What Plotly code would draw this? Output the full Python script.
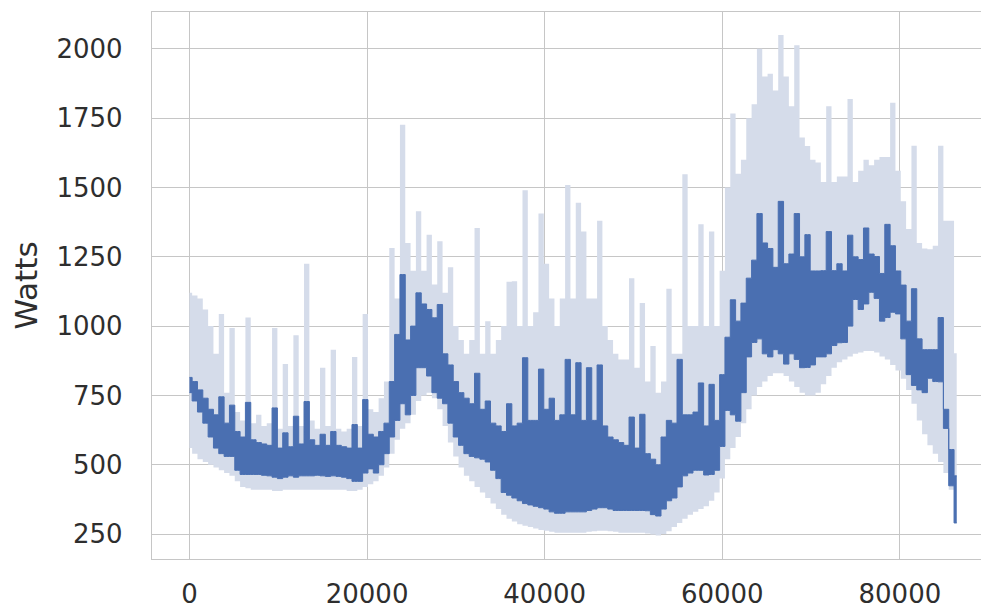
import plotly.graph_objects as go

# time of day in seconds (sample every 600 s)
seconds = list(range(0, 86401, 600))

# top edge of the dark mean line (W)
mean_high = [
    815, 800, 770, 740, 700, 680, 745, 650, 715, 620,
    600, 725, 590, 580, 575, 570, 705, 560, 615, 565,
    675, 575, 728, 590, 570, 610, 570, 620, 570, 565,
    560, 645, 560, 735, 610, 600, 620, 650, 800, 970,
    1186, 950, 1000, 1120, 1080, 1060, 1030, 1078, 900, 860,
    800, 760, 740, 720, 830, 700, 730, 650, 640, 620,
    720, 640, 650, 886, 660, 660, 845, 700, 740, 660,
    680, 880, 680, 868, 660, 850, 660, 860, 640, 600,
    590, 580, 570, 672, 560, 682, 540, 520, 500, 600,
    660, 650, 880, 680, 680, 690, 795, 640, 790, 660,
    825, 960, 1095, 1018, 1083, 1173, 1238, 1406, 1300, 1280,
    1212, 1450, 1225, 1260, 1406, 1250, 1330, 1199, 1199, 1200,
    1341, 1200, 1225, 1199, 1328, 1250, 1240, 1354, 1260, 1251,
    1190, 1367, 1290, 1199, 1148, 1018, 1135, 954, 915, 915,
    915, 1031, 700, 555, 460,
]

# bottom edge of the dark mean line (W)
mean_low = [
    760, 730, 690, 650, 600, 560, 540, 530, 530, 480,
    465, 465, 465, 465, 462, 460, 455, 450, 455, 460,
    455, 460, 460, 460, 462, 460, 458, 460, 458, 455,
    450, 440, 440, 470, 485, 470, 500, 540, 600, 660,
    720, 680, 750, 850, 850, 820, 760, 740, 720, 650,
    600, 570, 540, 530, 525, 520, 510, 480, 450, 400,
    390, 380, 370, 360, 355, 350, 345, 340, 330, 325,
    325, 330, 330, 330, 330, 335, 340, 345, 345, 340,
    335, 335, 335, 335, 335, 335, 334, 320, 315, 340,
    370, 380, 420, 460, 470, 480, 480, 463, 465, 480,
    566, 696, 680, 657, 760, 889, 941, 954, 900, 889,
    915, 900, 863, 900, 880, 850, 851, 860, 889, 889,
    900, 930, 940, 941, 1000, 1096, 1060, 1080, 1122, 1100,
    1018, 1031, 1050, 1044, 954, 825, 786, 770, 760, 812,
    800, 799, 631, 424, 290,
]

# upper edge of the confidence band (W)
ci_high = [
    1120, 1110, 1100, 1060, 1000, 900, 1044, 760, 993, 690,
    660, 1031, 650, 680, 640, 650, 993, 630, 863, 640,
    967, 640, 1225, 660, 630, 850, 640, 915, 630, 620,
    630, 889, 640, 1044, 700, 690, 740, 800, 1282, 1100,
    1726, 1300, 1200, 1414, 1200, 1330, 1150, 1306, 1120, 1212,
    1000, 950, 900, 950, 1354, 900, 1018, 900, 950, 1000,
    1160, 1162, 1000, 1490, 1000, 1050, 1406, 1225, 1100, 1000,
    1100, 1509, 1100, 1445, 1341, 1100, 1100, 1380, 1000, 950,
    900, 880, 880, 1173, 850, 1083, 800, 928, 760, 800,
    1135, 900, 900, 1548, 1000, 1000, 1367, 1000, 1341, 1000,
    1200, 1500, 1767, 1550, 1600, 1750, 1800, 2000, 1900, 1910,
    1850, 2050, 1900, 1793, 2013, 1680, 1650, 1600, 1590, 1520,
    1793, 1520, 1540, 1540, 1819, 1520, 1560, 1600, 1580, 1600,
    1610, 1610, 1806, 1560, 1450, 1350, 1651, 1300, 1280, 1277,
    1290, 1651, 1380, 1380, 902,
]

# lower edge of the confidence band (W)
ci_low = [
    560, 540, 520, 510, 500, 490, 480, 470, 460, 440,
    420, 415, 410, 410, 410, 410, 405, 405, 410, 410,
    410, 410, 410, 410, 410, 410, 410, 410, 410, 410,
    405, 405, 410, 420, 430, 440, 460, 490, 540, 590,
    630, 650, 680, 730, 750, 760, 740, 700, 640, 580,
    530, 490, 460, 440, 420, 400, 380, 360, 340, 320,
    305, 295, 285, 280, 275, 270, 265, 262, 258, 255,
    255, 255, 255, 255, 255, 258, 260, 262, 262, 260,
    258, 255, 255, 255, 255, 255, 252, 248, 245, 250,
    260, 275, 290, 305, 320, 330, 340, 350, 370, 400,
    450, 520, 560, 600, 650, 700, 750, 780, 800, 820,
    830, 830, 820, 800, 780, 760, 750, 750, 760, 790,
    820, 850, 870, 880, 890, 900, 905, 910, 910, 905,
    890, 880, 860, 840, 810, 770, 720, 660, 610, 570,
    540, 510, 470, 410, 290,
]

x_ticks = [0, 20000, 40000, 60000, 80000]
y_ticks = [250, 500, 750, 1000, 1250, 1500, 1750, 2000]

DARK = "#4a6fb1"
LIGHT = "#d5dcea"
GRID = "#c6c6c6"
TEXT = "#2e2e2e"
FONT = "DejaVu Sans"

fig = go.Figure()
fig.add_trace(go.Scatter(x=seconds, y=ci_low, mode="lines",
                         line=dict(width=0, shape="hvh"), hoverinfo="skip"))
fig.add_trace(go.Scatter(x=seconds, y=ci_high, mode="lines",
                         line=dict(width=0, shape="hvh"),
                         fill="tonexty", fillcolor=LIGHT, hoverinfo="skip"))
fig.add_trace(go.Scatter(x=seconds, y=mean_low, mode="lines",
                         line=dict(width=1, color=DARK, shape="hvh")))
fig.add_trace(go.Scatter(x=seconds, y=mean_high, mode="lines",
                         line=dict(width=1, color=DARK, shape="hvh"),
                         fill="tonexty", fillcolor=DARK))

# the page body adds an 8 px offset, so the figure is sized to fit the window
fig.update_layout(
    width=981, height=602,
    margin=dict(l=144, r=6, t=4, b=51),
    paper_bgcolor="white", plot_bgcolor="white",
    showlegend=False,
    font=dict(family=FONT, color=TEXT, size=26),
)
fig.update_xaxes(
    range=[-4220, 89360], tickvals=x_ticks, ticktext=[str(v) for v in x_ticks],
    showgrid=True, gridcolor=GRID, gridwidth=1.4,
    showline=True, mirror=True, linecolor=GRID, linewidth=1.4,
    zeroline=False, ticks="", ticklabelstandoff=12, automargin=False,
    tickfont=dict(family=FONT, size=26, color=TEXT),
)
fig.update_yaxes(
    range=[160, 2133], tickvals=y_ticks, ticktext=[str(v) for v in y_ticks],
    showgrid=True, gridcolor=GRID, gridwidth=1.4,
    showline=True, mirror=True, linecolor=GRID, linewidth=1.4,
    zeroline=False, ticks="", ticklabelstandoff=23, automargin=False,
    tickfont=dict(family=FONT, size=26, color=TEXT),
    title=dict(text="Watts", font=dict(family=FONT, size=31, color=TEXT), standoff=14),
)

fig.write_html("out.html")
